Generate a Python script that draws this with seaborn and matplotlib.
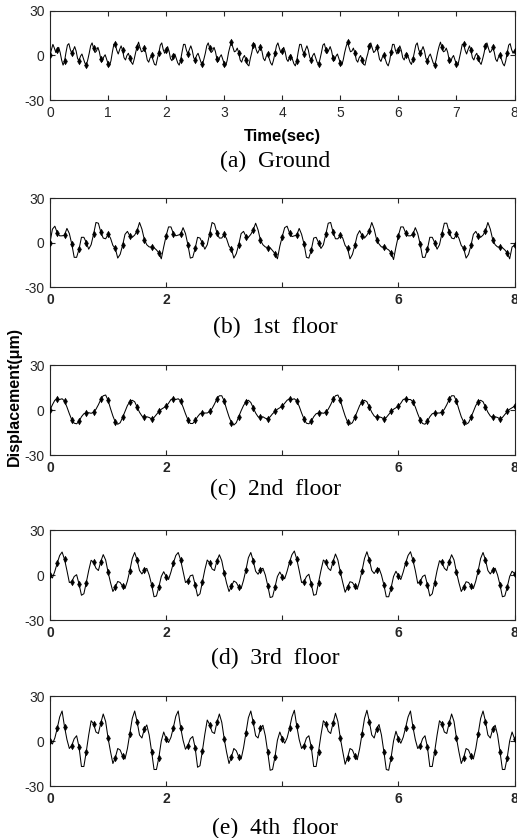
import numpy as np
import matplotlib
matplotlib.use("Agg")
import matplotlib.pyplot as plt
import seaborn as sns

# ---------------------------------------------------------------
# Displacement histories (um).
# Ground trace is sampled every 1/40 s, floors every 1/24 s;
# the diamond markers sit on every 0.125 s sample.
# ---------------------------------------------------------------
ground_dt = 1 / 40
floor_dt = 1 / 24

ground = [
    0, 4, 7.5, 5, 2, 3.5, 5.5, 2, -3, -6.5, -4,
    2, 7, 8, 4, 1.5, 3.5, 6, 3, -2, -3.5, -0.5, 1, -2, -5, -6.5, -3,
    1.5, 6.5, 8.5, 5, 2, 3, 5.5, 2.5, -2.5, -4, -1, 0.5, -2.5, -5.5, -7, -3.5,
    2.5, 7.5, 7.5, 3.5, 1, 4, 6.5, 3.5, -1.5, -3, 0, 1.5, -1.5, -4.5, -6, -2.5,
    2, 6, 9, 5.5, 2.5, 3, 5, 2, -3, -4.5, -1.5, 0, -3, -6, -6.5, -2,
    2, 7, 8.5, 4, 1.5, 3.5, 6, 3, -2, -3.5, -0.5, 1, -2, -5, -6.5, -3,
    2.5, 7.5, 7.5, 3.5, 1, 4, 6.5, 3.5, -1.5, -3, 0, 1.5, -1.5, -4.5, -6, -2.5,
    1.5, 6.5, 8.5, 5, 2, 3, 5.5, 2.5, -2.5, -4, -1, 0.5, -2.5, -5.5, -7, -3.5,
    2, 6, 9, 5.5, 2.5, 3, 5, 2, -3, -4.5, -1.5, 0, -3, -6, -7, -2,
    2, 7, 8, 4, 1.5, 3.5, 6, 3, -2, -3.5, -0.5, 1, -2, -5, -6.5, -3,
    1.5, 6.5, 8.5, 5, 2, 3, 5.5, 2.5, -2.5, -4, -1, 0.5, -2.5, -5.5, -7, -3.5,
    2.5, 7.5, 7.5, 3.5, 1, 4, 6.5, 3.5, -1.5, -3, 0, 1.5, -1.5, -4.5, -6, -2.5,
    2, 7, 8, 4, 1.5, 3.5, 6, 3, -2, -3.5, -0.5, 1, -2, -5, -6.5, -3,
    2, 6, 9, 5.5, 2.5, 3, 5, 2, -3, -4.5, -1.5, 0, -3, -6, -6.5, -2,
    1.5, 6.5, 8.5, 5, 2, 3, 5.5, 2.5, -2.5, -4, -1, 0.5, -2.5, -5.5, -7, -3.5,
    2.5, 7.5, 7.5, 3.5, 1, 4, 6.5, 3.5, -1.5, -3, 0, 1.5, -1.5, -4.5, -6, -2.5,
    2, 7, 8.5, 4, 1.5, 3.5, 6, 3, -2, -3.5, -0.5, 1, -2, -5, -6.5, -3,
    2, 6, 9, 5.5, 2.5, 3, 5, 2, -3, -4.5, -1.5, 0, -3, -6, -6.5, -2,
    2.5, 7.5, 7.5, 3.5, 1, 4, 6.5, 3.5, -1.5, -3, 0, 1.5, -1.5, -4.5, -6, -2.5,
    1.5, 6.5, 8.5, 5, 2, 3, 5.5, 2.5, -2.5, -4, -1, 0.5, -2.5, -5.5, -7, -3.5,
    2, 7, 8, 4, 1.5, 3,
]

floor1 = [
    0, 9, 11, 6.5, 4.5, 4.5, 5, 9.5, 6, -1, -10, -10, -4.5, 3.5, 3.5, 0, -4.5, -1.5, 5.5, 13.5, 13, 7, 3, 2.5,
    5.5, 3, -2, -4, -10.5, -8, -2, 5.5, 7.5, 4.5, 3.5, 5, 8, 13.5, 9, 2, -1.5, -3, -3, -3.5, -5, -7, -11, -3,
    4.5, 10.5, 10.5, 6, 4.5, 5, 5.5, 10, 6, -1.5, -10.5, -10, -4, 3.5, 3, -0.5, -4.5, -1.5, 6, 13.5, 12.5, 6.5, 3, 3,
    5.5, 2.5, -2.5, -4.5, -10.5, -7.5, -1.5, 6, 7.5, 4, 3.5, 5.5, 8.5, 13, 8.5, 1.5, -1.5, -3, -3.5, -3.5, -5.5, -7.5, -11, -2.5,
    4, 10, 11, 6.5, 4, 4.5, 5, 9.5, 5.5, -1, -10, -10.5, -5, 3, 3.5, 0, -4, -1.5, 5.5, 13, 13.5, 7, 2.5, 2.5,
    5, 3, -2, -4, -11, -8, -2, 5, 8, 4.5, 3, 5, 8, 13.5, 9, 2, -1, -3, -3, -4, -5, -7, -11.5, -3,
    4.5, 10.5, 10.5, 6.5, 4.5, 4.5, 5.5, 10, 6, -1, -10, -10, -4.5, 3.5, 3.5, 0, -4.5, -1.5, 6, 13, 13, 7, 3, 2.5,
    5.5, 3, -2, -4, -10.5, -8, -2, 5.5, 7.5, 4.5, 3.5, 5, 8, 13.5, 9, 2, -1.5, -3, -3, -3.5, -5, -7, -11, -3,
    -2,
]

floor2 = [
    0, 3.5, 6.5, 7.5, 7, 7.5, 6, 2, -2.5, -6.5, -8.8, -9.2, -7.5, -4.5, -2.5, -2, -1.8, -2.2, -1.5, 0.5, 3.5, 7, 9.5, 10,
    6.5, 1, -4, -8, -9.5, -8.5, -5, -1, 3, 5.5, 6.5, 5.5, 2, -1.5, -4, -5, -4.5, -5, -6, -5, -3, -1, 0.5, 1.5,
    2.5, 4.5, 7, 7.5, 7, 7.5, 6, 2, -2.5, -6.5, -9, -9, -7, -4.5, -2.5, -2, -2, -2, -1, 1, 4, 7.5, 9.5, 9.5,
    6, 0.5, -4.5, -8.5, -10, -8.5, -4.5, -0.5, 3, 5.5, 6.5, 5, 1.5, -2, -4.5, -5, -4.5, -5.5, -6, -4.5, -2.5, -1, 0.5, 1.5,
    2.5, 4.5, 6.5, 7.5, 7, 7.5, 6, 2.5, -2, -6, -8.8, -9.2, -7.5, -4.5, -2.5, -2, -1.8, -2.2, -1.5, 0.5, 3.5, 7, 9.5, 10,
    6.5, 1, -4, -8, -9.5, -8.5, -5, -1, 3, 5.5, 6.5, 5.5, 2, -1.5, -4, -5, -4.5, -5, -6, -5, -3, -1, 0.5, 1.5,
    2.5, 4.5, 7, 7.5, 7, 7, 5.5, 2, -2.5, -6.5, -9, -9.5, -7.5, -4.5, -2.5, -2, -2, -2, -1.5, 0.5, 3.5, 7, 9.5, 9.5,
    6, 0.5, -4.5, -8, -9.5, -8.5, -5, -1, 3, 5.5, 6.5, 5.5, 2, -1.5, -4, -5, -4.5, -5, -6, -5, -3, -1, 0.5, 1.5,
    2.5,
]

floor3 = [
    0, -2, 2.5, 8, 13, 15.3, 10.5, 3, -5, -4.5, -1, 0.2, -6, -13.5, -12.5, -5, 3, 9.8, 8.5, 4.5, 3, 9, 13.6, 10,
    2, -5, -11, -8, -4.3, -5, -7.5, -9, -4, 3, 11, 15, 10, 3, 0.7, 3.3, 4.4, 0, -6.5, -14.5, -14, -8, -1, 2.2,
    -1, -3, 2, 8, 13, 15, 10, 2.5, -5, -4, -0.5, 0, -6.5, -14, -12.5, -4.5, 3.5, 10, 8, 4, 3, 9.5, 13.5, 9.5,
    1.5, -5.5, -11, -7.5, -4, -5, -8, -9, -3.5, 3.5, 11.5, 15, 9.5, 2.5, 0.5, 3.5, 4.5, 0, -7, -15, -14.5, -8, -1, 2,
    -1, -2.5, 2.5, 8.5, 13.5, 16, 10.5, 3, -5, -4.5, -1, 0.5, -6, -13.5, -13, -5, 3, 10, 8.5, 4.5, 3, 9, 14, 10,
    2, -5, -11.5, -8, -4.5, -5, -7.5, -9.5, -4, 3, 11, 15.5, 10, 3, 1, 3.5, 4.5, 0, -6.5, -14.5, -14.5, -8.5, -1, 2.5,
    -0.5, -3, 2, 8, 13, 15.5, 10, 3, -5.5, -4.5, -1, 0, -6.5, -14, -12.5, -5, 3, 9.5, 8.5, 4.5, 3, 9, 13.5, 10,
    2, -5, -11, -8, -4.5, -5, -7.5, -9, -4, 3, 11, 15, 10, 3, 0.7, 3.3, 4.5, 0, -6.5, -14.5, -14, -8, -1, 2.5,
    1,
]

floor4 = [
    0, -2, 2, 8.5, 16, 20, 9.5, 1, -5, -3, 1.5, 3.5, -4, -17, -17, -7, 4, 13.5, 11.5, 6, 5, 12, 18, 13,
    2, -7, -15, -11, -5, -6, -10, -12, -5, 5, 15, 20, 13, 4, 2, 8, 10.7, 4, -7, -19, -19, -11, 0, 6,
    1.5, -1, 2.5, 9, 16.5, 20, 9, 0.5, -5.5, -3, 1.5, 3, -4.5, -17.5, -16.5, -6.5, 4.5, 14, 11, 6, 5, 12.5, 18, 12.5,
    1.5, -7.5, -15, -10.5, -5, -6.5, -10.5, -12, -4.5, 5.5, 15.5, 20, 12.5, 3.5, 2, 8.5, 10.5, 3.5, -7.5, -19.5, -19, -10.5, 0.5, 6,
    1.5, -1.5, 2, 8.5, 16, 20.5, 10, 1, -5, -3, 2, 3.5, -4, -17, -17, -7, 4, 13.5, 11.5, 6.5, 5, 12, 18.5, 13,
    2, -7, -15.5, -11, -5, -6, -10, -12.5, -5, 5, 15, 20.5, 13, 4, 2, 8, 11, 4, -7, -19, -19.5, -11, 0, 6.5,
    1.5, -1.5, 2.5, 9, 16, 20, 9.5, 1, -5, -3.5, 1.5, 3.5, -4, -17, -17, -7, 4, 13.5, 11.5, 6, 5, 12, 18, 13,
    2, -7, -15, -11, -5, -6, -10, -12, -5, 5, 15, 20, 13, 4, 2, 8, 10.5, 4, -7, -19, -19, -11, 0, 6,
    1.5,
]

captions = ['(a)  Ground', '(b)  1st  floor', '(c)  2nd  floor', '(d)  3rd  floor', '(e)  4th  floor']
y_ticks = [-30, 0, 30]
ground_x_ticks = [0, 1, 2, 3, 4, 5, 6, 7, 8]
floor_x_ticks = [0, 2, 4, 6, 8]
floor_x_labels = ['0', '2', '', '6', '8']

# panel frames in pixels (top, bottom) and caption heights, figure is 517x838
panel_rows = [(11, 100), (198, 287), (365, 455), (530, 620), (696, 786)]
caption_rows = [161, 327, 489, 658, 828]
AX_LEFT, AX_RIGHT = 50, 514.5
FIG_W, FIG_H = 517, 838
INK = '#262626'


def plot_response(ax, values, dt, marker_step, x_ticks, x_labels, bold_x=False):
    """
    Draw one displacement history: thin solid trace plus diamond markers.
    """
    t = np.arange(len(values)) * dt
    y = np.asarray(values, dtype=float)

    sns.lineplot(x=t, y=y, ax=ax, color='black', linewidth=0.75, errorbar=None)
    sns.scatterplot(x=t[::marker_step], y=y[::marker_step], ax=ax, marker='d',
                    s=12, color='black', edgecolor='black', linewidth=0.3, zorder=3)

    ax.set_xlim(0, 8)
    ax.set_ylim(-30, 30)
    ax.set_yticks(y_ticks)
    ax.set_yticklabels([str(v) for v in y_ticks])
    ax.set_xticks(x_ticks)
    ax.set_xticklabels(x_labels, fontweight='bold' if bold_x else 'normal')
    ax.set_xlabel('')
    ax.set_ylabel('')

    # MATLAB-like box: inward ticks on all four sides
    ax.tick_params(direction='in', top=True, right=True, length=3.5, width=0.8,
                   labelsize=10, colors=INK, pad=4)
    for spine in ax.spines.values():
        spine.set_visible(True)
        spine.set_color(INK)
        spine.set_linewidth(0.8)


sns.set_style("ticks")
plt.rcParams['font.family'] = ['Liberation Sans', 'DejaVu Sans']

fig = plt.figure(figsize=(FIG_W / 100, FIG_H / 100), dpi=100)

series = [ground, floor1, floor2, floor3, floor4]
for k, (vals, (top, bot)) in enumerate(zip(series, panel_rows)):
    ax = fig.add_axes([AX_LEFT / FIG_W, 1 - bot / FIG_H,
                       (AX_RIGHT - AX_LEFT) / FIG_W, (bot - top) / FIG_H])
    if k == 0:
        plot_response(ax, vals, ground_dt, 5, ground_x_ticks,
                      [str(v) for v in ground_x_ticks])
    else:
        plot_response(ax, vals, floor_dt, 3, floor_x_ticks, floor_x_labels, bold_x=True)

    # caption under each panel
    fig.text(275 / FIG_W, 1 - caption_rows[k] / FIG_H, captions[k],
             family=['Liberation Serif', 'DejaVu Serif'], fontsize=17,
             ha='center', va='center', color='black')

# shared labels
fig.text((AX_LEFT + AX_RIGHT) / 2 / FIG_W, 1 - 137 / FIG_H, 'Time(sec)',
         fontweight='bold', fontsize=12, ha='center', va='center', color='black')
fig.text(14 / FIG_W, 1 - 396 / FIG_H, 'Displacement(\u03bcm)', rotation=90,
         fontweight='bold', fontsize=11.5, ha='center', va='center', color='black')

fig.savefig('out.png', dpi=100)
